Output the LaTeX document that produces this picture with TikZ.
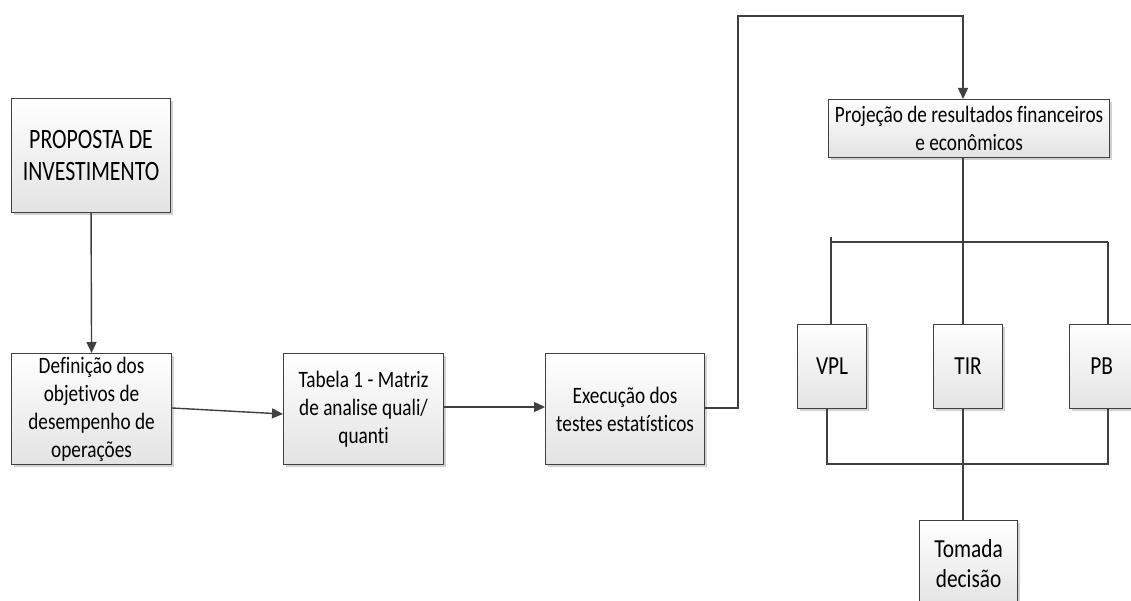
\documentclass[tikz,border=0pt]{standalone}
\usepackage{fontspec}
\setmainfont[FakeStretch=0.82, Ligatures=NoCommon]{Carlito}
\newfontfamily\bigfont[FakeStretch=0.78, Ligatures=NoCommon]{Carlito}
\usetikzlibrary{arrows.meta,shadows}
\definecolor{ln}{HTML}{404040}
\tikzset{
 box/.style={draw=ln, line width=1.1pt, top color=white, bottom color=black!11,
   drop shadow={shadow xshift=2.5pt, shadow yshift=-2.5pt, fill=black!18, opacity=1},
   align=center, inner sep=0pt, anchor=north west, text=black,
   font=\fontsize{23.5}{28}\selectfont},
 bigtext/.style={font=\bigfont\fontsize{28}{32}\selectfont},
 midtext/.style={font=\fontsize{26}{30}\selectfont},
 conn/.style={draw=ln, line width=1.4pt},
 arr/.style={conn, -{Triangle[length=11pt,width=10pt]}}
}
\begin{document}
\begin{tikzpicture}[x=1pt,y=-1pt]
\fill[white] (0,0) rectangle (1131,601);
\useasboundingbox (0,0) rectangle (1131,601);
% boxes
\node[box, bigtext, minimum width=159pt, minimum height=114pt] (prop) at (11,98) {PROPOSTA DE\\INVESTIMENTO};
\node[box, minimum width=160pt, minimum height=111pt] (def) at (11,353) {Definição dos\\objetivos de\\desempenho de\\operações};
\node[box, minimum width=160pt, minimum height=111pt] (tab) at (283,353) {Tabela 1 - Matriz\\de analise quali/\\quanti};
\node[box, minimum width=159pt, minimum height=111pt] (exe) at (545,353) {Execução dos\\testes estatísticos};
\node[box, minimum width=281pt, minimum height=58pt] (proj) at (828,99) {Projeção de resultados financeiros\\e econômicos};
\node[box, midtext, minimum width=69pt, minimum height=84pt] (vpl) at (797,324) {VPL};
\node[box, midtext, minimum width=69pt, minimum height=84pt] (tir) at (933,324) {TIR};
\node[box, midtext, minimum width=64pt, minimum height=84pt] (pb) at (1069,324) {PB};
\node[box, midtext, minimum width=98pt, minimum height=86pt] (tom) at (919,520) {Tomada\\decisão};
% helper coordinates
\coordinate (c1) at (738,408);
\coordinate (c2) at (738,16);
\coordinate (c3) at (963,16);
\coordinate (blt) at (831,237);
\coordinate (bl) at (831,242);
\coordinate (bt) at (963,242);
\coordinate (br) at (1108,242);
\coordinate (dl) at (827,464);
\coordinate (dt) at (963,464);
\coordinate (dr) at (1108,464);
% connectors
\draw[arr] (prop.south) -- (def.north);
\draw[arr] (def.east |- 0,408) -- (tab.west |- 0,414);
\draw[arr] (tab.east |- 0,407) -- (exe.west |- 0,407);
\draw[arr] (exe.east |- c1) -- (c1) -- (c2) -- (c3) -- (proj.north -| c3);
\draw[conn] (proj.south -| bt) -- (bt);
\draw[conn] (bl) -- (br);
\draw[conn] (blt) -- (vpl.north -| blt);
\draw[conn] (bt) -- (tir.north -| bt);
\draw[conn] (br) -- (pb.north -| br);
\draw[conn] (vpl.south -| dl) -- (dl) -- (dr) -- (pb.south -| dr);
\draw[conn] (tir.south -| dt) -- (tom.north -| dt);
\end{tikzpicture}
\end{document}
